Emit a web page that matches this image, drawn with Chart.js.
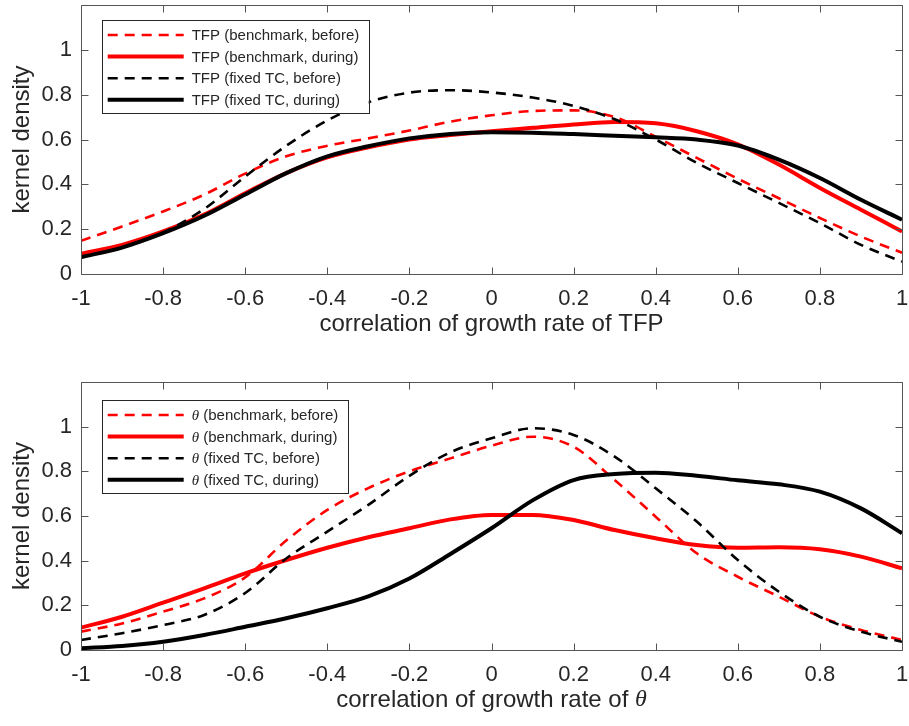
<!DOCTYPE html>
<html>
<head>
<meta charset="utf-8">
<script src="https://cdn.jsdelivr.net/npm/chart.js@4.4.1/dist/chart.umd.min.js"></script>
<style>
  html, body { margin: 0; padding: 0; background: #fff; }
  .panel { position: absolute; left: 0; width: 909px; height: 363px; }
  #p1 { top: 0; }
  #p2 { top: 363px; }
</style>
</head>
<body>
<div class="panel" id="p1"><canvas id="c1" width="909" height="363"></canvas></div>
<div class="panel" id="p2"><canvas id="c2" width="909" height="363"></canvas></div>
<script>
// Evaluation grid of the kernel density estimates (correlation coefficient)
const xGrid = [-1, -0.9, -0.8, -0.7, -0.6, -0.5, -0.4, -0.3, -0.2, -0.1, 0,
               0.1, 0.2, 0.3, 0.4, 0.5, 0.6, 0.7, 0.8, 0.9, 1];

// Panel 1: correlation of growth rate of TFP
const tfpBenchBefore = [0.148, 0.212, 0.279, 0.354, 0.448, 0.525, 0.572, 0.605, 0.640, 0.680, 0.708,
                        0.727, 0.730, 0.700, 0.612, 0.518, 0.425, 0.338, 0.250, 0.167, 0.095];
const tfpBenchDuring = [0.090, 0.130, 0.190, 0.265, 0.360, 0.450, 0.520, 0.565, 0.600, 0.620, 0.637,
                        0.652, 0.667, 0.678, 0.672, 0.637, 0.578, 0.488, 0.384, 0.287, 0.190];
const tfpFixedBefore = [0.075, 0.118, 0.185, 0.290, 0.435, 0.572, 0.685, 0.766, 0.809, 0.820, 0.810,
                        0.787, 0.750, 0.690, 0.600, 0.496, 0.406, 0.317, 0.227, 0.130, 0.055];
const tfpFixedDuring = [0.075, 0.118, 0.182, 0.260, 0.355, 0.450, 0.525, 0.570, 0.605, 0.625, 0.632,
                        0.630, 0.624, 0.617, 0.610, 0.600, 0.573, 0.510, 0.428, 0.331, 0.242];

// Panel 2: correlation of growth rate of theta
const thetaBenchBefore = [0.082, 0.119, 0.172, 0.231, 0.325, 0.490, 0.627, 0.725, 0.800, 0.858, 0.915,
                          0.955, 0.910, 0.761, 0.597, 0.433, 0.328, 0.239, 0.149, 0.090, 0.045];
const thetaBenchDuring = [0.100, 0.149, 0.212, 0.276, 0.343, 0.403, 0.458, 0.505, 0.545, 0.585, 0.605,
                          0.605, 0.582, 0.537, 0.500, 0.470, 0.458, 0.460, 0.451, 0.418, 0.366];
const thetaFixedBefore = [0.045, 0.075, 0.112, 0.157, 0.255, 0.410, 0.530, 0.650, 0.780, 0.885, 0.948,
                          0.993, 0.963, 0.866, 0.724, 0.575, 0.403, 0.261, 0.149, 0.082, 0.037];
const thetaFixedDuring = [0.008, 0.018, 0.037, 0.067, 0.104, 0.142, 0.187, 0.240, 0.320, 0.430, 0.545,
                          0.670, 0.761, 0.788, 0.794, 0.780, 0.760, 0.742, 0.709, 0.634, 0.523];

const tfpLabels = ['TFP (benchmark, before)', 'TFP (benchmark, during)',
                   'TFP (fixed TC, before)', 'TFP (fixed TC, during)'];
const thetaLabels = ['θ (benchmark, before)', 'θ (benchmark, during)',
                     'θ (fixed TC, before)', 'θ (fixed TC, during)'];

const xTicks = [-1, -0.8, -0.6, -0.4, -0.2, 0, 0.2, 0.4, 0.6, 0.8, 1];
const yTicks = [0, 0.2, 0.4, 0.6, 0.8, 1];

const SANS = "'Liberation Sans', Arial, Helvetica, sans-serif";
const SERIF = "'Liberation Serif', 'DejaVu Serif', serif";
const TEXT = '#262626';
const AXIS = '#555555';
const TICK_LEN = 7;

// line styles: benchmark = red, fixed TC = black; before = dashed, during = solid
const lineStyles = [
  { color: '#ff0000', dash: [10, 7], width: 2.6 },
  { color: '#ff0000', dash: [], width: 4 },
  { color: '#000000', dash: [10, 7], width: 2.6 },
  { color: '#000000', dash: [], width: 4 }
];

// split a string into runs: θ set in italic serif, the rest in sans
function runs(text, size) {
  return text.split(/(θ)/).filter(s => s.length).map(s => ({
    text: s,
    font: s === 'θ' ? `italic ${size}px ${SERIF}` : `${size}px ${SANS}`
  }));
}
function measureRuns(ctx, parts) {
  let w = 0;
  parts.forEach(p => { ctx.font = p.font; p.w = ctx.measureText(p.text).width; w += p.w; });
  return w;
}
function drawRuns(ctx, parts, x, y, align) {
  const total = measureRuns(ctx, parts);
  let cx = align === 'center' ? x - total / 2 : x;
  ctx.textAlign = 'left';
  parts.forEach(p => { ctx.font = p.font; ctx.fillText(p.text, cx, y); cx += p.w; });
}

// scales keep no extra label padding, so the plot box is set by layout.padding alone
function noScalePadding(s) {
  s.paddingTop = 0; s.paddingBottom = 0; s.paddingLeft = 0; s.paddingRight = 0;
}

// box frame, inward tick marks, x-axis title and boxed legend
const framePlugin = {
  id: 'frame',
  afterDraw(chart, args, opts) {
    const { ctx, chartArea: a, scales: { x, y } } = chart;
    const L = Math.round(a.left) + 0.5, R = Math.round(a.right) + 0.5;
    const T = Math.round(a.top) + 0.5, B = Math.round(a.bottom) + 0.5;
    ctx.save();
    ctx.strokeStyle = AXIS;
    ctx.lineWidth = 1;
    ctx.setLineDash([]);
    ctx.beginPath();
    ctx.rect(L, T, R - L, B - T);
    x.ticks.forEach(t => {
      const px = Math.round(x.getPixelForValue(t.value)) + 0.5;
      ctx.moveTo(px, B); ctx.lineTo(px, B - TICK_LEN);
      ctx.moveTo(px, T); ctx.lineTo(px, T + TICK_LEN);
    });
    y.ticks.forEach(t => {
      const py = Math.round(y.getPixelForValue(t.value)) + 0.5;
      ctx.moveTo(L, py); ctx.lineTo(L + TICK_LEN, py);
      ctx.moveTo(R, py); ctx.lineTo(R - TICK_LEN, py);
    });
    ctx.stroke();

    // x-axis title
    ctx.fillStyle = TEXT;
    ctx.textBaseline = 'middle';
    drawRuns(ctx, runs(opts.xTitle, 24), (a.left + a.right) / 2, a.bottom + opts.xTitleGap, 'center');

    // legend
    const bx = a.left + opts.legendDx, by = a.top + opts.legendDy;
    const rowGap = 21.6;
    const rows = chart.data.datasets.map(ds => ({ ds, parts: runs(ds.label, 15) }));
    let maxW = 0;
    rows.forEach(r => { r.w = measureRuns(ctx, r.parts); maxW = Math.max(maxW, r.w); });
    const textOff = 90;
    const bw = Math.round(textOff + maxW + 9);
    const bh = Math.round(15 + 3 * rowGap + 13);
    ctx.fillStyle = '#ffffff';
    ctx.fillRect(bx, by, bw, bh);
    ctx.strokeStyle = TEXT;
    ctx.lineWidth = 1;
    ctx.strokeRect(Math.round(bx) + 0.5, Math.round(by) + 0.5, bw, bh);
    rows.forEach((r, i) => {
      const yy = by + 15 + i * rowGap;
      ctx.strokeStyle = r.ds.borderColor;
      ctx.lineWidth = r.ds.borderWidth;
      ctx.setLineDash(r.ds.borderDash || []);
      ctx.beginPath();
      ctx.moveTo(bx + 6, yy);
      ctx.lineTo(bx + 82, yy);
      ctx.stroke();
      ctx.setLineDash([]);
      ctx.fillStyle = TEXT;
      ctx.textBaseline = 'middle';
      drawRuns(ctx, r.parts, bx + textOff, yy + 1, 'left');
    });
    ctx.restore();
  }
};

function makeChart(canvasId, series, labels, cfg) {
  const datasets = series.map((vals, i) => ({
    label: labels[i],
    data: xGrid.map((xv, k) => ({ x: xv, y: vals[k] })),
    borderColor: lineStyles[i].color,
    borderDash: lineStyles[i].dash,
    borderWidth: lineStyles[i].width,
    pointRadius: 0,
    fill: false,
    cubicInterpolationMode: 'monotone',
    order: 4 - i
  }));
  const chart = new Chart(document.getElementById(canvasId), {
    type: 'line',
    data: { datasets },
    options: {
      responsive: false,
      animation: false,
      devicePixelRatio: 1,
      layout: { autoPadding: false, padding: { left: 0, right: 7, top: cfg.padTop, bottom: 0 } },
      plugins: {
        legend: { display: false },
        tooltip: { enabled: false },
        frame: { xTitle: cfg.xTitle, xTitleGap: 50, legendDx: 20.7, legendDy: cfg.legendDy }
      },
      scales: {
        x: {
          type: 'linear',
          min: -1, max: 1,
          afterBuildTicks: s => { s.ticks = xTicks.map(v => ({ value: v })); },
          afterFit: s => { s.height = cfg.xAxisHeight; noScalePadding(s); },
          grid: { display: false, drawTicks: false },
          border: { display: false },
          ticks: {
            color: TEXT, padding: 12, maxRotation: 0, autoSkip: false,
            font: { family: SANS, size: 22 },
            callback: v => String(v)
          }
        },
        y: {
          min: 0, max: 1.2,
          afterBuildTicks: s => { s.ticks = yTicks.map(v => ({ value: v })); },
          afterFit: s => { s.width = 81; noScalePadding(s); },
          grid: { display: false, drawTicks: false },
          border: { display: false },
          ticks: {
            color: TEXT, padding: 9,
            font: { family: SANS, size: 22 },
            callback: v => String(v)
          },
          title: {
            display: true, text: 'kernel density', color: TEXT,
            font: { family: SANS, size: 24 },
            padding: { top: 8, bottom: 0 }
          }
        }
      }
    },
    plugins: [framePlugin]
  });
  // pin the plot box to the intended pixel rectangle
  const a = chart.chartArea;
  const pad = chart.options.layout.padding;
  const dTop = cfg.plotTop - a.top, dRight = a.right - 902;
  if (Math.abs(dTop) > 0.5 || Math.abs(dRight) > 0.5) {
    chart.options.layout.padding = { left: 0, right: 7 - dRight, top: cfg.padTop + dTop, bottom: 0 };
    chart.update();
  }
  return chart;
}

makeChart('c1', [tfpBenchBefore, tfpBenchDuring, tfpFixedBefore, tfpFixedDuring], tfpLabels,
  { padTop: 5, plotTop: 5, xAxisHeight: 89, xTitle: 'correlation of growth rate of TFP', legendDy: 15 });
makeChart('c2', [thetaBenchBefore, thetaBenchDuring, thetaFixedBefore, thetaFixedDuring], thetaLabels,
  { padTop: 19, plotTop: 19, xAxisHeight: 76, xTitle: 'correlation of growth rate of θ', legendDy: 18 });
</script>
</body>
</html>
